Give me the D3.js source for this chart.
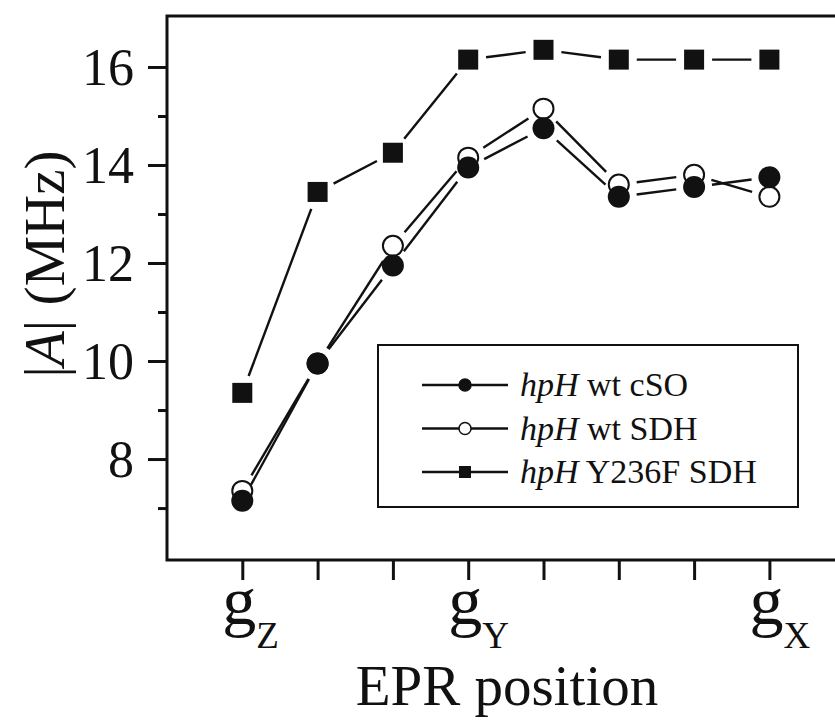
<!DOCTYPE html>
<html>
<head>
<meta charset="utf-8">
<script src="https://cdn.jsdelivr.net/npm/d3@7"></script>
<style>
  body { margin: 0; background: #fff; }
  svg { display: block; }
  svg text { font-family: "Liberation Serif", "Tinos", "DejaVu Serif", serif; fill: #111; }
</style>
</head>
<body>
<svg width="835" height="720"></svg>
<script>
// EPR positions (index along the field), labelled ones get g with subscript
const positions = [0, 1, 2, 3, 4, 5, 6, 7];
const xLabels = [{ pos: 0, sub: "Z" }, { pos: 3, sub: "Y" }, { pos: 7, sub: "X" }];

const cSO = [7.15, 9.95, 11.95, 13.95, 14.75, 13.35, 13.55, 13.75];
const wtSDH = [7.35, 9.95, 12.35, 14.15, 15.15, 13.6, 13.8, 13.35];
const y236fSDH = [9.35, 13.45, 14.25, 16.15, 16.35, 16.15, 16.15, 16.15];

const majorTicks = [8, 10, 12, 14, 16];
const minorTicks = [7, 9, 11, 13, 15];

const serif = '"Liberation Serif", "Tinos", "DejaVu Serif", serif';
const svg = d3.select("svg");

const x = d3.scaleLinear().domain([-1, 9]).range([167, 920]);
const y = d3.scaleLinear().domain([5.94, 17.04]).range([560, 16]);

const ink = "#111";

// series, drawn in this order (filled circles end up on top of open ones)
const series = [
  { name: "wt SDH", vals: wtSDH, shape: "open" },
  { name: "wt cSO", vals: cSO, shape: "filled" },
  { name: "Y236F SDH", vals: y236fSDH, shape: "square" },
];

// lines between markers with a gap around each symbol
const gap = 18;
series.forEach(s => {
  const pts = s.vals.map((v, i) => [x(positions[i]), y(v)]);
  const segs = d3.pairs(pts).map(([a, b]) => {
    const dx = b[0] - a[0], dy = b[1] - a[1];
    const len = Math.hypot(dx, dy);
    const ux = dx / len, uy = dy / len;
    return [a[0] + ux * gap, a[1] + uy * gap, b[0] - ux * gap, b[1] - uy * gap];
  });
  const g = svg.append("g");
  g.selectAll("line")
    .data(segs)
    .enter()
    .append("line")
    .attr("x1", d => d[0]).attr("y1", d => d[1])
    .attr("x2", d => d[2]).attr("y2", d => d[3])
    .attr("stroke", ink)
    .attr("stroke-width", 2.4);

  if (s.shape === "square") {
    g.selectAll("rect")
      .data(pts)
      .enter()
      .append("rect")
      .attr("x", d => d[0] - 10).attr("y", d => d[1] - 10)
      .attr("width", 20).attr("height", 20)
      .attr("fill", ink);
  } else {
    g.selectAll("circle")
      .data(pts)
      .enter()
      .append("circle")
      .attr("cx", d => d[0]).attr("cy", d => d[1])
      .attr("r", s.shape === "open" ? 10 : 11)
      .attr("fill", s.shape === "open" ? "#fff" : ink)
      .attr("stroke", ink)
      .attr("stroke-width", s.shape === "open" ? 2 : 0);
  }
});

// frame
svg.append("rect")
  .attr("x", x(-1)).attr("y", y.range()[1])
  .attr("width", x(9) - x(-1)).attr("height", y.range()[0] - y.range()[1])
  .attr("fill", "none")
  .attr("stroke", ink)
  .attr("stroke-width", 3);

// y axis
const yMajor = svg.append("g")
  .attr("transform", `translate(${x(-1)},0)`)
  .call(d3.axisLeft(y).tickValues(majorTicks).tickSize(19).tickPadding(14));
const yMinor = svg.append("g")
  .attr("transform", `translate(${x(-1)},0)`)
  .call(d3.axisLeft(y).tickValues(minorTicks).tickSize(9).tickFormat(""));
[yMajor, yMinor].forEach(a => {
  a.attr("font-family", serif);
  a.select(".domain").remove();
  a.selectAll("line").attr("stroke", ink).attr("stroke-width", 3);
});
yMajor.selectAll("text")
  .attr("font-size", 52)
  .attr("dy", "0.34em")
  .attr("fill", ink);

// x axis
const xAxis = svg.append("g")
  .attr("transform", `translate(0,${y.range()[0]})`)
  .call(d3.axisBottom(x).tickValues(positions).tickSize(20).tickFormat(""));
xAxis.select(".domain").remove();
xAxis.selectAll("line").attr("stroke", ink).attr("stroke-width", 3);

const xl = svg.append("g")
  .selectAll("text")
  .data(xLabels)
  .enter()
  .append("text")
  .attr("x", d => x(d.pos) - 20)
  .attr("y", 624)
  .attr("font-size", 68);
xl.append("tspan").text("g");
xl.append("tspan").attr("font-size", 37).attr("dy", 24).text(d => d.sub);

// axis titles
svg.append("text")
  .attr("x", 507).attr("y", 705)
  .attr("text-anchor", "middle")
  .attr("font-size", 57)
  .text("EPR position");

const yt = svg.append("text")
  .attr("transform", "translate(64,264) rotate(-90)")
  .attr("text-anchor", "middle")
  .attr("font-size", 57);
yt.append("tspan").text("|");
yt.append("tspan").attr("font-style", "italic").text("A");
yt.append("tspan").text("| (MHz)");

// legend
const legend = svg.append("g");
legend.append("rect")
  .attr("x", 378).attr("y", 345)
  .attr("width", 420).attr("height", 162)
  .attr("fill", "#fff")
  .attr("stroke", ink)
  .attr("stroke-width", 2);

const legendItems = [series[1], series[0], series[2]];
const rows = legend.selectAll("g.row")
  .data(legendItems)
  .enter()
  .append("g")
  .attr("class", "row")
  .attr("transform", (d, i) => `translate(0,${385 + i * 43.5})`);
rows.append("line")
  .attr("x1", 422).attr("x2", 508)
  .attr("stroke", ink).attr("stroke-width", 2.4);
rows.filter(d => d.shape !== "square")
  .append("circle")
  .attr("cx", 465).attr("r", 6)
  .attr("fill", d => d.shape === "open" ? "#fff" : ink)
  .attr("stroke", ink).attr("stroke-width", 1.5);
rows.filter(d => d.shape === "square")
  .append("rect")
  .attr("x", 459).attr("y", -6).attr("width", 12).attr("height", 12)
  .attr("fill", ink);
const lt = rows.append("text")
  .attr("x", 520).attr("y", 11)
  .attr("font-size", 34);
lt.append("tspan").attr("font-style", "italic").text("hpH");
lt.append("tspan").text(d => " " + d.name);
</script>
</body>
</html>
